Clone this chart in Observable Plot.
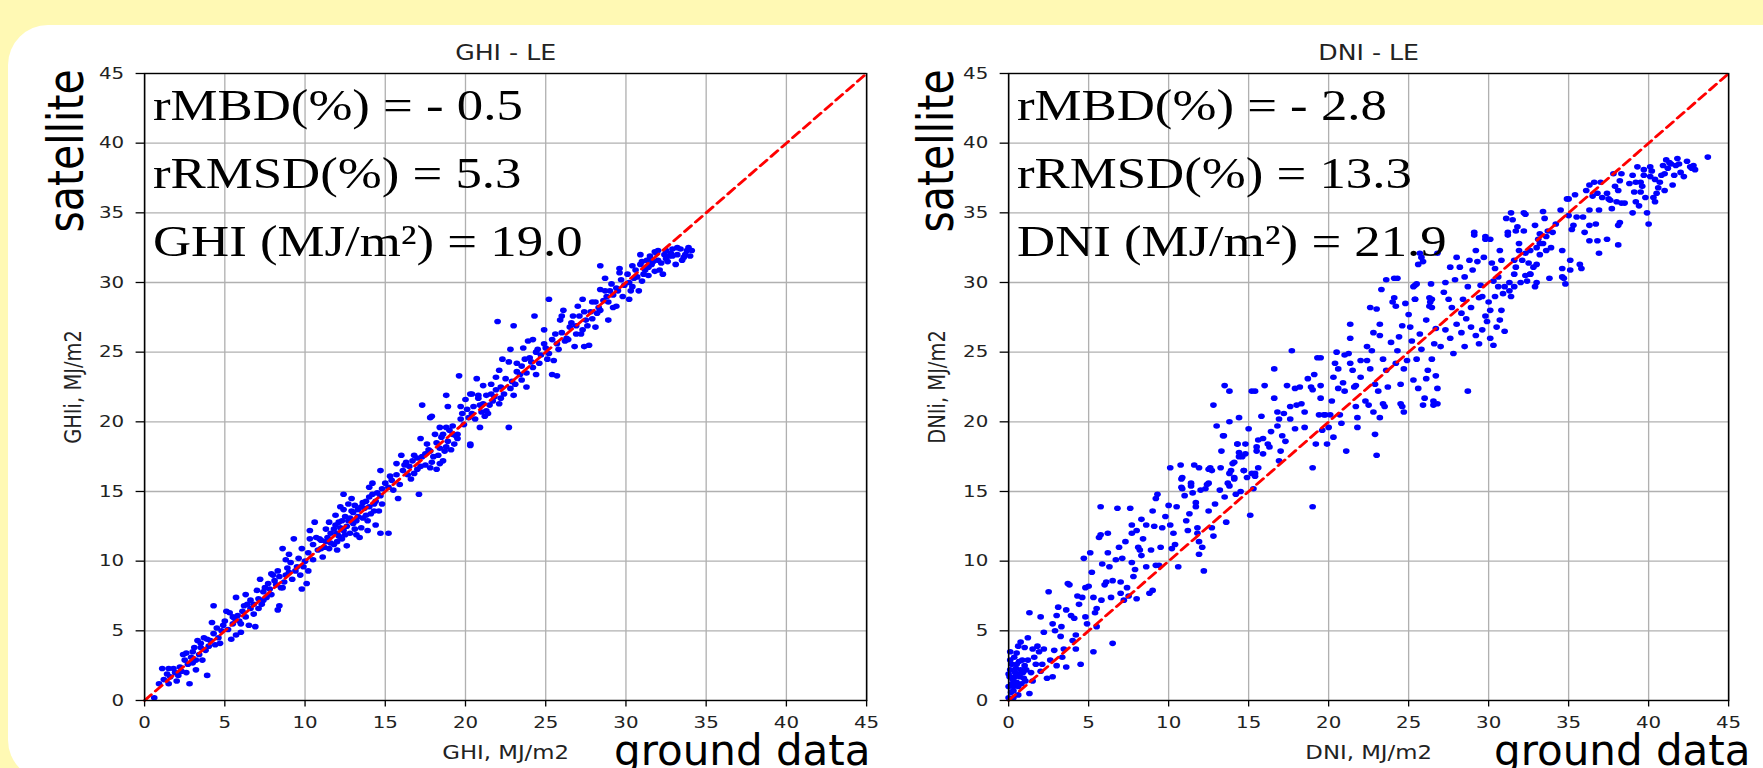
<!DOCTYPE html>
<html>
<head>
<meta charset="utf-8">
<script src="https://cdn.jsdelivr.net/npm/d3@7"></script>
<script src="https://cdn.jsdelivr.net/npm/@observablehq/plot@0.6"></script>
<style>
  html, body { margin: 0; padding: 0; }
  body { width: 1763px; height: 768px; overflow: hidden; background: #fff9b4; position: relative; font-family: "DejaVu Sans", sans-serif; }
  #card { position: absolute; left: 8px; top: 25px; width: 1820px; height: 755px; background: #ffffff; border-radius: 40px; }
  .panel { position: absolute; top: 0; transform-origin: 0 0; transform: scaleX(1.2); }
  .panel svg { max-width: none !important; display: block; }
  .gd { position: absolute; top: 735.5px; font-family: "DejaVu Sans", sans-serif; font-size: 42px; line-height: 30px; color: #000; white-space: nowrap; }
</style>
</head>
<body>
<div id="card"></div>
<div id="left" class="panel" style="left:0px"></div>
<div id="right" class="panel" style="left:880px"></div>
<div class="gd" style="left:614px">ground data</div>
<div class="gd" style="left:1494px">ground data</div>
<script>
// ---- data ----
const axisTicks = [0, 5, 10, 15, 20, 25, 30, 35, 40, 45];
const diagonal = [0, 45];

const ghiTitle = "GHI - LE";
const dniTitle = "DNI - LE";
const ghiXLabel = "GHI, MJ/m2";
const ghiYLabel = "GHIi, MJ/m2";
const dniXLabel = "DNI, MJ/m2";
const dniYLabel = "DNIi, MJ/m2";
const ghiStats = ["rMBD(%) = - 0.5", "rRMSD(%) = 5.3", "GHI (MJ/m²) = 19.0"];
const dniStats = ["rMBD(%) = - 2.8", "rRMSD(%) = 13.3", "DNI (MJ/m²) = 21.9"];

// [ground, satellite] pairs, GHI
const ghiPoints = [
[0.6,0.2],[0.9,1.2],[1.1,2.3],[1.5,2.3],[1.8,2.3],[1.5,1.2],[1.6,1.7],[2.1,1.8],[2.2,2.4],[2.8,1.2],[2.7,2.6],[2.4,3.3],[2.9,3.1],[3.1,3.8],[3.4,3.3],[3.6,2.9],[3.9,1.8],[3.8,3.6],[3.3,4.3],[3.7,4.5],[4.1,4.3],[4.3,6.8],[4.2,5.6],[4.6,4.5],[4.8,5.0],[5.0,5.7],[5.3,6.3],[5.4,4.4],[5.5,5.5],[5.7,4.7],[5.8,6.1],[6.0,5.5],[5.7,7.4],[6.4,6.9],[6.5,5.4],[6.9,5.3],[6.8,6.2],[7.0,7.9],[7.2,8.7],[7.3,6.9],[7.6,7.4],[7.5,8.1],[7.7,8.4],[8.0,9.0],[8.3,6.5],[8.4,6.8],[8.3,9.3],[8.5,8.1],[8.7,8.5],[9.0,9.2],[9.2,8.7],[8.6,10.9],[9.0,10.5],[9.3,11.6],[9.5,9.6],[9.7,9.0],[9.8,8.0],[10.1,8.4],[10.2,9.3],[10.0,10.0],[9.8,10.9],[10.3,12.2],[10.3,11.6],[10.5,11.2],[10.8,10.8],[11.1,10.3],[11.0,11.5],[11.4,11.7],[11.3,12.3],[11.5,10.9],[11.8,11.2],[12.0,12.0],[12.2,12.4],[12.3,11.6],[12.2,13.9],[12.5,13.2],[12.6,11.1],[12.8,12.0],[13.0,12.7],[12.7,14.1],[12.9,14.5],[12.4,14.8],[13.3,13.2],[13.4,11.7],[13.5,12.4],[13.7,13.8],[13.9,12.2],[14.1,13.4],[14.3,14.1],[14.4,12.6],[14.6,13.6],[14.7,12.0],[15.2,12.0],[14.0,15.3],[14.7,14.7],[15.2,15.3],[15.5,15.1],[15.8,14.5],[15.3,16.1],[14.7,16.5],[15.7,17.0],[16.1,16.5],[16.3,17.1],[16.6,15.9],[17.1,14.8],[16.8,17.6],[17.3,17.5],[17.5,16.9],[17.2,18.8],[17.6,18.4],[17.9,17.1],[18.2,16.6],[18.3,17.6],[18.6,17.2],[18.7,17.9],[18.8,19.6],[18.1,19.1],[19.3,18.4],[19.5,19.1],[19.7,20.2],[17.8,20.3],[17.3,21.2],[18.8,21.9],[20.2,20.3],[20.3,18.3],[20.5,21.1],[20.9,19.6],[21.3,20.8],[21.7,21.5],[20.4,22.0],
[17.9,20.4],[19.6,23.3],[18.9,21.1],[19.7,21.1],[18.4,19.6],[18.6,19.1],[19.2,19.1],[20.3,22.0],[20.7,23.1],[20.8,21.7],[21.1,21.3],[21.4,20.6],[21.6,22.7],[21.9,23.2],[21.8,21.8],[22.1,23.7],[22.2,22.5],[22.1,21.3],[22.7,19.6],[20.3,18.4],[22.0,27.2],[23.0,26.9],[22.8,25.2],[22.7,24.3],[23.2,24.2],[23.1,22.7],[23.4,23.4],[23.8,22.5],[23.7,24.5],[23.9,25.8],[24.2,25.9],[24.2,23.9],[24.3,27.6],[24.5,25.2],[24.9,26.6],[25.2,28.8],[25.1,24.5],[25.5,24.4],[25.4,23.4],[25.7,23.3],[25.6,26.3],[25.9,27.3],[26.1,28.0],[26.2,25.8],[26.5,26.8],[26.7,27.6],[26.8,25.4],[27.0,28.3],[27.2,26.3],[27.4,25.4],[27.7,25.5],[27.5,27.3],[27.9,28.6],[28.1,26.8],[28.2,27.8],[28.4,31.2],[28.7,30.3],[28.4,29.5],[28.9,27.3],[28.6,28.7],[29.0,29.4],[29.2,28.2],[29.6,30.7],[29.9,29.8],[30.2,28.8],[30.3,29.4],[30.5,30.3],[30.8,29.4],[30.9,31.3],[31.1,30.6],[31.4,31.1],[31.7,31.5],[31.9,32.1],[32.3,30.6],[32.1,30.9],[32.5,31.7],[32.8,32.1],[33.1,31.3],[33.4,32.4],[33.8,32.3],[34.1,32.3],[32.5,32.3],[32.9,32.4],[31.5,31.9],
[11.8,12.3],[12.1,12.8],[12.4,12.2],[12.7,12.9],[13.0,13.5],[13.2,12.9],[13.5,13.9],[13.8,14.3],[14.0,13.9],[14.2,14.8],[12.0,11.4],[12.5,11.9],[11.6,11.3],[11.2,11.0],[10.9,11.6],[13.6,13.1],[14.4,14.3],[14.8,15.2],[13.1,14.0],[12.9,13.6],
[5.6,5.9],[6.1,6.4],[6.6,6.6],[7.1,7.3],[7.4,7.8],[7.9,7.6],[8.2,8.3],[8.8,9.0],[6.3,6.0],[4.9,5.4],[4.4,4.0],[3.0,2.7],[2.5,2.9],[3.5,3.8],[4.0,3.9],
[16.5,16.8],[17.0,16.6],[17.8,17.9],[18.4,18.1],[18.9,18.6],[19.4,19.0],[19.9,19.8],[20.4,20.6],[20.9,21.2],[21.2,20.4],[21.6,22.0],[22.4,22.0],[22.8,22.4],[23.5,23.0],[24.0,24.6],[24.6,24.2],[25.0,25.3],[25.8,25.2],[26.4,25.9],[26.9,26.9],[27.3,26.6],[27.8,27.9],[28.3,28.2],[28.8,29.0],[29.4,29.6],[29.8,29.0],[30.2,30.0],[30.6,30.9],[31.0,30.1],[31.3,31.6],[31.8,30.8],[32.2,31.4],[32.7,31.9],[33.2,32.0],[33.6,31.8],[33.9,32.5],[31.6,31.3],[30.4,29.7],[29.1,29.9],
[1.2,1.5],[1.9,2.0],[2.3,2.1],[2.6,3.4],[3.0,3.5],[3.2,2.9],[3.5,4.1],[3.9,4.4],[4.3,4.8],[4.5,5.2],[4.7,4.1],[2.0,1.4],[1.4,1.9],[3.2,2.2],[2.6,2.0],
[5.2,5.1],[5.5,6.0],[5.9,5.7],[6.2,6.8],[6.6,7.2],[6.8,6.9],[7.1,6.6],[7.4,7.2],[7.8,8.0],[8.1,8.6],[8.4,8.9],[8.6,8.1],[8.9,9.5],[9.1,9.9],[9.4,9.3],[9.6,10.2],[9.9,9.6],[6.3,7.6],[7.9,9.1],[8.8,10.1],[5.1,6.4],[6.0,4.9],
[10.2,10.6],[10.5,10.1],[10.7,11.7],[11.0,10.9],[11.3,11.4],[11.6,12.0],[11.9,12.6],[12.1,11.8],[12.3,12.9],[12.6,12.5],[12.8,13.1],[13.1,12.3],[13.3,13.7],[13.6,14.2],[13.8,13.3],[14.0,14.6],[14.3,13.6],[14.5,14.9],[14.8,14.1],[15.0,15.6],[10.6,12.8],[11.9,13.3],[12.4,13.7],[13.2,11.9],[13.9,12.9],[14.2,15.6],[11.5,12.8],[12.0,10.8],
[15.4,15.8],[15.7,16.2],[15.9,15.5],[16.2,16.9],[16.4,16.2],[16.7,17.2],[17.0,17.4],[17.2,16.8],[17.5,17.7],[17.7,18.0],[18.0,17.5],[18.2,18.5],[18.5,18.9],[18.8,18.2],[19.0,19.4],[19.2,19.7],[19.5,18.8],[19.8,20.6],[16.0,17.6],[16.8,16.3],[17.8,16.7],[18.4,17.0],[19.1,18.0],
[20.1,20.9],[20.6,20.2],[20.8,21.9],[21.0,20.7],[21.3,21.9],[21.5,21.2],[21.9,22.3],[22.2,21.7],[22.5,23.1],[22.9,22.9],[23.2,23.6],[23.5,24.0],[23.8,23.5],[24.1,24.3],[24.4,25.0],[24.7,24.8],[24.9,25.6],[20.0,21.6],[21.1,22.6],[22.3,24.5],[23.6,25.3],[24.4,23.4],[23.0,21.9],
[25.2,24.9],[25.4,25.9],[25.7,25.6],[26.0,26.4],[26.3,26.0],[26.6,27.1],[26.9,26.3],[27.1,27.6],[27.4,27.9],[27.6,26.9],[27.9,27.4],[28.1,28.6],[28.4,28.0],[28.7,29.4],[28.9,28.6],[29.2,29.1],[29.5,29.4],[29.7,30.2],[26.0,27.6],[27.3,28.8],[29.4,28.3],[29.6,31.0],
[30.1,30.6],[30.4,31.2],[30.7,30.4],[31.0,31.5],[31.2,30.9],[31.5,31.7],[31.8,32.2],[32.0,31.6],[32.4,32.0],[32.6,31.5],[32.9,31.9],[33.2,32.5],[33.5,31.6],[33.7,32.0],[34.0,31.9],[30.9,32.0],[31.4,30.5],[32.0,32.3]
];

// [ground, satellite] pairs, DNI
const dniPoints = [
[0.1,2.9],[0.1,2.2],[0.2,1.2],[0.3,0.7],[0.4,1.7],[0.5,2.6],[0.6,1.0],[0.75,2.2],[0.85,2.9],[0.95,1.6],[1.1,2.2],[1.2,2.9],[1.3,0.5],[0.0,0.2],[0.06,1.7],[0.3,0.2],[0.6,0.4],[0.2,2.6],[0.4,2.0],[0.7,1.7],[0.8,1.2],[1.0,2.5],[0.3,1.0],[0.5,1.3],[0.0,1.0],[0.0,1.9],[0.5,3.4],[1.0,3.8],
[0.15,0.6],[0.25,1.5],[0.45,2.3],[0.55,1.9],[0.65,2.8],[0.9,2.0],[1.05,1.4],[0.35,3.1],[0.1,3.5],[1.4,2.0],[1.5,1.4],[1.8,3.9],[2.2,4.9],[2.6,2.9],[2.0,2.1],
[0.75,4.2],[0.6,3.9],[1.2,4.5],[1.3,6.3],[1.5,3.7],[1.6,3.1],[1.7,2.6],[1.9,3.5],[2.0,6.0],[2.1,2.6],[2.2,3.7],[2.4,1.6],[2.5,7.8],[2.75,5.5],[2.85,3.6],[2.75,1.7],[2.9,5.0],[3.0,6.1],[3.0,2.5],[3.1,6.7],[3.25,4.6],[3.35,3.1],[3.45,3.7],[3.6,2.4],[3.7,8.4],[3.8,8.3],[3.9,6.1],[4.0,4.3],[4.2,4.7],[4.2,3.7],[4.3,7.5],[4.4,6.9],[4.5,2.6],[4.7,10.2],[4.8,8.1],[4.8,6.0],[4.9,5.5],[5.1,10.6],[5.2,9.2],[5.3,7.4],[5.3,3.5],[5.5,5.3],[5.5,6.6],[5.4,6.3],[5.65,11.7],[5.75,11.9],[5.85,9.8],[6.0,8.3],[6.1,8.5],[6.2,10.6],[6.2,12.0],[5.75,13.9],[6.4,7.4],[6.5,8.6],[6.5,4.1],[6.8,13.8],[6.9,11.0],[7.0,8.5],[7.0,7.7],[7.1,10.2],[7.2,7.2],[7.4,8.1],[7.5,7.5],[7.6,13.8],[7.7,12.6],[7.7,12.0],[7.7,9.9],[7.8,8.9],[7.9,9.4],[8.0,7.3],[8.1,11.0],[8.2,10.8],[8.3,13.0],[8.3,10.4],[8.6,9.6],[8.6,12.6],[8.8,7.7],[9.0,13.6],[9.1,12.5],[9.2,14.5],[9.2,9.7],[9.3,14.8],[9.4,9.7],[9.0,7.9],[9.6,12.4],[10.0,14.0],[10.1,12.6],[10.2,10.9],[10.3,12.0],[10.4,11.2],[10.1,16.7],[10.6,9.6],[10.75,16.9],[10.85,16.0],[10.85,15.2],[11.0,14.7],[11.1,12.9],[11.3,13.4],[11.4,15.4],[11.6,16.9],[11.7,14.2],[11.7,13.9],[11.8,12.4],[11.8,12.0],[11.9,11.4],[11.9,10.5],[12.1,11.0],[12.2,9.3],[12.3,15.2],[12.4,15.5],[12.5,13.6],[12.6,16.7],[12.7,12.4],[12.8,11.8],[13.25,16.7],[13.45,19.0],[13.5,14.6],[13.6,12.8],[13.7,15.6],[13.8,16.3],[14.0,17.0],[14.1,15.9],[14.2,14.8],[14.3,18.4],[14.4,17.8],[14.6,17.5],[14.7,16.5],[14.8,18.4],[15.1,13.3],[15.2,16.3],[15.3,15.2],[15.4,16.1],[15.5,17.9],[15.6,18.7],[19.0,13.9],[19.0,16.7],
[3.3,5.3],[3.6,6.5],[4.1,5.9],[4.6,7.4],[5.0,8.2],[5.8,7.2],[6.3,9.6],[6.7,10.1],[7.3,11.4],[8.0,12.2],[8.4,11.6],[8.9,10.8],[9.5,11.0],[9.8,13.2],[10.5,13.9],[11.2,12.2],[11.5,14.9],[12.9,14.1],[13.2,15.1],[14.5,15.0],[15.0,19.5],[15.8,20.4],[16.4,19.3],[17.3,18.6],[17.9,22.4],[18.7,23.1],[19.5,21.7],[20.2,21.5],[21.0,24.8],[22.0,23.2],[22.8,26.4],[23.7,22.5],[24.6,26.9],[25.0,27.7],[25.6,22.4],[26.6,25.6],[27.2,29.3],[27.9,30.2],[28.5,30.4],[29.0,30.9],[29.6,29.0],[30.2,31.4],[31.8,34.0],[33.4,35.1],[34.2,34.2],[35.4,36.3],[36.0,33.6],[37.0,37.2],[37.9,36.9],[38.8,37.1],[39.6,36.9],[40.3,36.1],[41.0,36.6],[42.4,38.7],
[10.8,15.9],[11.4,15.6],[10.8,15.3],[11.9,16.7],[12.5,16.6],[12.7,16.5],[12.0,15.1],[12.5,15.6],[12.8,21.2],[13.0,19.7],[13.4,19.0],[13.5,22.6],[13.8,22.2],[13.8,20.0],[13.3,17.9],[13.9,16.5],[13.8,15.4],[14.1,17.1],[14.3,18.4],[14.4,20.3],[14.1,16.0],[14.4,17.5],[14.7,16.5],[14.8,17.7],[14.9,16.0],[15.2,22.2],[15.4,22.2],[15.5,18.2],[15.6,16.7],[15.4,16.3],[15.9,18.8],[15.9,17.7],[16.0,22.6],[16.2,18.4],[16.3,18.2],[16.6,23.8],[16.6,21.7],[16.8,20.7],[16.8,19.7],[16.9,20.2],[17.1,19.0],[17.2,20.6],[17.0,17.9],[16.9,17.2],[17.4,22.6],[17.6,21.1],[17.6,20.2],[17.7,25.1],[17.9,19.5],[18.0,21.2],[18.3,21.3],[18.5,20.7],[18.5,19.6],[18.2,22.5],[18.9,22.5],[19.0,22.3],[19.1,23.4],[19.2,18.4],[19.3,24.6],[19.5,24.6],[19.5,22.6],[19.4,20.5],[19.6,19.4],[19.7,20.5],[19.8,20.5],[19.9,18.4],[20.0,19.6],[20.1,20.5],[20.3,23.2],[20.3,18.9],[20.4,24.2],[20.5,25.0],[20.6,23.8],[20.6,22.4],[20.7,20.5],[20.8,19.9],[20.9,22.8],[21.0,22.2],[21.1,17.9],[21.25,24.9],[21.35,27.0],[21.35,26.0],[21.35,24.2],[21.5,23.7],[21.6,22.5],[21.7,21.1],[21.7,22.6],[21.8,20.3],[21.8,19.6],[22.0,24.4],[22.3,21.5],[22.4,24.4],[22.4,25.4],[22.5,21.2],[22.6,23.8],[22.7,25.1],[22.8,20.7],[22.9,19.1],[22.9,22.7],[23.0,17.6],[23.0,28.1],[23.1,22.2],[23.2,27.0],[23.2,26.2],[23.2,20.3],[23.3,29.5],[23.4,21.3],[23.5,21.1],[23.4,24.5],[23.6,23.7],[23.9,25.7],[24.0,28.6],[24.1,28.9],[24.2,24.2],[24.3,25.1],[24.4,26.1],[24.5,22.7],[24.5,21.3],[24.6,21.1],[24.7,20.7],[24.8,28.5],[24.7,23.8],[24.9,24.4],[25.1,26.8],[25.2,25.8],[25.3,23.0],[25.4,28.8],[25.4,29.8],[25.5,24.5],[25.7,26.3],[25.8,25.2],[25.9,21.2],[26.0,21.7],[26.1,27.3],[26.1,23.1],[26.2,23.7],[26.35,28.6],[26.45,28.2],[26.45,28.8],[26.45,24.5],[26.55,21.5],[26.55,21.2],[26.7,23.3],[26.7,26.7],[26.8,22.4],[26.8,21.3],[28.7,22.2],[22.6,28.2],[23.6,30.2],
[28.6,27.4],[28.9,26.8],[29.2,26.2],[29.4,25.6],[29.6,26.6],[29.9,27.2],[30.1,26.0],[30.3,25.5],[30.5,26.8],[30.7,27.3],[31.0,26.5],[28.3,26.4],[28.0,27.0],[27.6,26.0],[27.3,26.6],[27.0,25.4],[27.8,24.9],[28.5,25.4],[29.8,27.6],[30.8,28.0],
[24.1,30.3],[24.2,28.3],[25.3,29.7],[25.4,28.8],[25.5,29.9],[25.6,31.3],[25.8,31.8],[26.3,28.9],[26.3,28.3],[26.4,29.9],[26.8,32.1],[27.3,30.0],[27.5,28.8],[27.6,31.1],[27.7,28.2],[28.0,31.8],[28.2,31.1],[28.3,27.8],[28.4,28.8],[28.7,29.7],[28.8,31.6],[28.9,28.2],[29.1,33.4],[29.2,32.3],[29.3,31.5],[29.4,28.9],[29.5,29.8],[29.7,31.8],[29.8,33.1],[30.0,28.6],[30.1,28.0],[24.3,30.3],[25.7,32.1],[25.9,31.5],[29.1,33.6],[29.8,33.3],[31.2,33.6],[32.3,34.9],
[30.1,33.1],[30.3,30.1],[30.4,31.0],[30.6,29.7],[30.7,32.3],[30.8,31.6],[30.9,29.2],[31.1,34.6],[31.2,33.4],[31.3,30.0],[31.3,29.4],[31.4,35.0],[31.5,34.5],[31.6,31.6],[31.6,29.7],[31.7,33.7],[31.7,31.1],[31.9,32.8],[32.1,31.6],[32.2,35.0],[32.2,33.7],[32.3,32.1],[32.3,30.5],[32.4,30.1],[32.5,31.4],[32.6,32.3],[32.6,30.6],[32.8,31.1],[32.9,34.1],[32.9,29.7],[33.0,30.0],[33.1,33.1],[33.2,33.5],[33.2,32.0],[33.4,32.8],[33.5,34.6],[33.6,32.3],[33.7,33.7],[33.8,30.3],[34.0,33.6],[34.5,35.2],[34.6,32.3],[34.6,30.4],[34.8,29.9],[34.9,36.0],[35.0,34.8],[35.1,31.6],[35.1,30.9],[35.2,33.8],[35.3,34.1],[35.5,34.7],[35.7,31.3],[35.8,31.0],[35.9,34.7],[36.1,36.6],[36.3,37.0],[36.3,35.2],[36.3,34.1],[36.3,33.0],[36.5,36.2],[36.6,37.2],[36.7,34.2],[36.8,36.4],[36.8,33.0],[36.9,32.1],[36.9,35.2],[37.1,36.1],[37.4,36.4],[37.4,33.1],[37.5,36.0],[37.6,35.9],[37.7,35.3],[37.8,37.8],[38.0,35.8],[38.1,36.6],[38.1,34.1],[38.1,32.7],[38.2,34.3],[38.2,37.3],[38.3,37.8],[38.3,35.7],[38.5,35.7],[39.0,37.7],[39.0,35.0],[39.1,36.5],[39.2,37.2],[39.2,35.8],[39.3,38.3],[39.4,35.5],[39.5,36.5],[39.5,37.2],[39.7,38.1],[39.7,37.7],[39.8,36.1],[39.9,35.0],[40.0,34.2],[40.1,37.6],[40.1,38.3],[40.2,38.0],[40.4,35.8],[40.4,37.4],[40.5,36.4],[40.6,36.8],[40.7,37.2],[40.8,37.7],[40.9,38.4],[41.0,37.8],[41.1,38.8],[41.2,38.2],[41.3,38.6],[41.4,38.5],[41.5,37.0],[41.6,37.7],[41.7,38.4],[41.8,38.9],[41.9,38.5],[42.0,37.9],[42.2,37.6],[42.6,38.3],[42.7,38.2],[42.8,38.4],[42.9,38.1],[43.7,39.0],
[30.4,29.0],[30.6,30.4],[31.0,29.7],[31.4,29.0],[31.6,30.6],[31.9,32.3],[32.0,30.0],[32.6,30.6],[33.0,31.3],[33.0,32.5],[33.2,32.8],[33.6,33.3],[33.9,32.5],[34.6,31.0],[34.7,30.3],[35.0,36.0]
];

// ---- drawing ----
function panel(cfg) {
  const {points, title, xLabel, yLabel, stats, marginLeft, areaWidth, satDx} = cfg;
  const marginRight = 20;
  const width = marginLeft + areaWidth + marginRight;
  return Plot.plot({
    width,
    height: 768,
    marginLeft,
    marginRight,
    marginTop: 73,
    marginBottom: 68,
    style: {background: "transparent", overflow: "visible", fontFamily: "DejaVu Sans", fontSize: "16.5px", color: "#000"},
    x: {domain: [0, 45], label: null},
    y: {domain: [0, 45], label: null},
    marks: [
      Plot.gridX(axisTicks, {stroke: "#b0b0b0", strokeOpacity: 1, strokeWidth: 1.1}),
      Plot.gridY(axisTicks, {stroke: "#b0b0b0", strokeOpacity: 1, strokeWidth: 1.3}),
      Plot.dot(points, {x: d => d[0], y: d => d[1], r: 2.8, fill: "#0000ff", stroke: "none"}),
      Plot.line(diagonal, {x: d => d, y: d => d, stroke: "#ff0000", strokeWidth: 2.6, strokeDasharray: "8,5"}),
      Plot.frame({stroke: "#000", strokeWidth: 1.3}),
      Plot.axisX(axisTicks, {tickSize: 6.5, tickPadding: 9, label: null, stroke: "#000", strokeWidth: 1.1, fontSize: 16.5, fill: "#222"}),
      Plot.axisY(axisTicks, {tickSize: 7, tickPadding: 10, label: null, stroke: "#000", strokeWidth: 1.3, fontSize: 16.5, fill: "#222"}),
      Plot.text([title], {text: d => d, frameAnchor: "top", dy: -20, fontSize: 21, lineAnchor: "middle", textAnchor: "middle", fill: "#222"}),
      Plot.text([xLabel], {text: d => d, frameAnchor: "bottom", dy: 52, fontSize: 19, lineAnchor: "middle", textAnchor: "middle", fill: "#222"}),
      Plot.text([yLabel], {text: d => d, frameAnchor: "left", dx: -59, rotate: -90, fontSize: 19.5, lineAnchor: "middle", textAnchor: "middle", fill: "#222"}),
      Plot.text(["satellite"], {text: d => d, frameAnchor: "top-left", dx: satDx, dy: 159, rotate: -90, textAnchor: "start", lineAnchor: "bottom", fontSize: 41}),
      ...stats.map((s, i) => Plot.text([s], {
        text: d => d, frameAnchor: "top-left", dx: 7, dy: 47 + 68 * i,
        textAnchor: "start", lineAnchor: "bottom", fontSize: 44,
        fontFamily: "Liberation Serif, Times New Roman, serif"
      }))
    ]
  });
}

const leftSvg = panel({points: ghiPoints, title: ghiTitle, xLabel: ghiXLabel, yLabel: ghiYLabel, stats: ghiStats,
  marginLeft: 120, areaWidth: 601.7, satDx: -51.5});
const rightSvg = panel({points: dniPoints, title: dniTitle, xLabel: dniXLabel, yLabel: dniYLabel, stats: dniStats,
  marginLeft: 106.7, areaWidth: 600, satDx: -46.5});
document.getElementById("left").appendChild(leftSvg);
document.getElementById("right").appendChild(rightSvg);
</script>
</body>
</html>
